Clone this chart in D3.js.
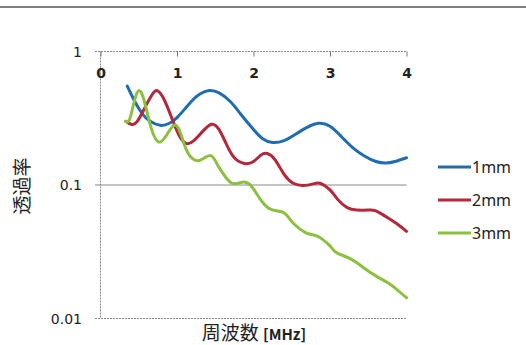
<!DOCTYPE html>
<html><head><meta charset="utf-8">
<script src="https://cdn.jsdelivr.net/npm/d3@7"></script>
<style>html,body{margin:0;padding:0;background:#fff;}svg{display:block;}</style>
</head><body>
<svg id="chart" width="526" height="345"></svg>
<script>
const xTicks = [0, 1, 2, 3, 4];
const yTicks = [1, 0.1, 0.01];
const yTickLabels = ["1", "0.1", "0.01"];
const seriesNames = ["1mm", "2mm", "3mm"];
const seriesColors = ["#1f6db0", "#b3283a", "#8cc03f"];

const blueF = [0.35,0.45,0.55,0.65,0.78,0.9,1.0,1.1,1.2,1.3,1.42,1.55,1.7,1.85,2.0,2.12,2.25,2.4,2.55,2.7,2.85,3.0,3.15,3.3,3.45,3.6,3.73,3.85,4.0];
const blueV = [0.55,0.42,0.34,0.30,0.28,0.29,0.32,0.37,0.43,0.48,0.51,0.49,0.42,0.33,0.26,0.222,0.208,0.215,0.24,0.27,0.29,0.275,0.23,0.19,0.165,0.15,0.146,0.15,0.16];

const redF = [0.33,0.40,0.48,0.58,0.68,0.74,0.82,0.92,1.02,1.12,1.22,1.33,1.45,1.55,1.65,1.75,1.88,2.0,2.1,2.18,2.28,2.4,2.52,2.65,2.78,2.87,3.0,3.1,3.22,3.35,3.5,3.6,3.75,3.9,4.0];
const redV = [0.30,0.285,0.30,0.38,0.48,0.51,0.45,0.33,0.24,0.205,0.215,0.25,0.285,0.26,0.20,0.16,0.145,0.15,0.168,0.172,0.155,0.12,0.103,0.099,0.102,0.103,0.092,0.078,0.068,0.065,0.065,0.064,0.057,0.050,0.045];

const greenF = [0.33,0.38,0.44,0.50,0.57,0.66,0.76,0.86,0.96,1.04,1.12,1.22,1.32,1.44,1.52,1.61,1.72,1.85,1.96,2.09,2.22,2.37,2.45,2.53,2.68,2.8,2.88,3.0,3.09,3.27,3.44,3.62,3.79,3.9,4.0];
const greenV = [0.30,0.31,0.42,0.51,0.43,0.27,0.21,0.235,0.28,0.25,0.185,0.155,0.155,0.166,0.145,0.12,0.103,0.105,0.10,0.078,0.066,0.063,0.058,0.051,0.044,0.042,0.040,0.035,0.031,0.028,0.024,0.0205,0.018,0.016,0.0143];

const series = [
  {name: seriesNames[0], color: seriesColors[0], f: blueF, v: blueV},
  {name: seriesNames[1], color: seriesColors[1], f: redF, v: redV},
  {name: seriesNames[2], color: seriesColors[2], f: greenF, v: greenV}
];

const svg = d3.select("#chart");
const x = d3.scaleLinear().domain([0, 4]).range([100.5, 406.5]);
const y = d3.scaleLog().domain([0.01, 1]).range([318.5, 51.5]);

// top page border
svg.append("line").attr("x1", 0).attr("x2", 526).attr("y1", 7).attr("y2", 7)
  .attr("stroke", "#555").attr("stroke-width", 1.5);

// horizontal gridlines
svg.selectAll(".grid").data(yTicks).enter().append("line")
  .attr("x1", 95).attr("x2", x(4)).attr("y1", d => y(d)).attr("y2", d => y(d))
  .attr("stroke", "#888").attr("stroke-width", 1)
  .attr("stroke-dasharray", d => d === 0.1 ? null : "2,1");

// left axis (dashed)
svg.append("line").attr("x1", x(0)).attr("x2", x(0)).attr("y1", y(1)).attr("y2", y(0.01))
  .attr("stroke", "#888").attr("stroke-dasharray", "2,1");

// y tick labels
svg.selectAll(".ylab").data(yTicks).enter().append("text")
  .attr("x", 82).attr("y", d => y(d)).attr("dy", "0.36em")
  .attr("text-anchor", "end").attr("font-family", "DejaVu Sans, sans-serif")
  .attr("font-size", 14).attr("fill", "#222")
  .text((d, i) => yTickLabels[i]);

// x axis at top, ticks pointing down
const xAxis = d3.axisBottom(x).tickValues(xTicks).tickSize(5).tickPadding(12).tickFormat(d3.format("d"));
const gx = svg.append("g").attr("transform", `translate(0,${y(1)})`).call(xAxis);
gx.select(".domain").remove();
gx.selectAll(".tick line").attr("stroke", "#777");
gx.selectAll(".tick text").attr("font-family", "DejaVu Sans, sans-serif")
  .attr("font-size", 14).attr("fill", "#222").attr("font-weight", "bold");

// lines
const line = d3.line().x(d => x(d[0])).y(d => y(d[1])).curve(d3.curveNatural);
series.forEach(s => {
  const pts = s.f.map((f, i) => [f, s.v[i]]);
  svg.append("path").datum(pts).attr("d", line)
    .attr("fill", "none").attr("stroke", s.color).attr("stroke-width", 3)
    .attr("stroke-linejoin", "round").attr("stroke-linecap", "round");
});

// legend
const leg = svg.append("g");
series.forEach((s, i) => {
  const ly = 167 + i * 33;
  leg.append("line").attr("x1", 438).attr("x2", 471).attr("y1", ly).attr("y2", ly)
    .attr("stroke", s.color).attr("stroke-width", 3);
  leg.append("text").attr("x", 472).attr("y", ly).attr("dy", "0.36em")
    .attr("font-family", "Noto Sans, sans-serif").attr("font-size", 16).attr("fill", "#222")
    .text(s.name);
});

// y axis title
svg.append("text").attr("transform", "translate(22,186) rotate(-90)")
  .attr("text-anchor", "middle").attr("dy", "0.36em")
  .attr("font-family", "Noto Sans CJK JP, sans-serif").attr("font-size", 19).attr("fill", "#222")
  .text("透過率");

// x axis title
const xt = svg.append("text").attr("x", 254).attr("y", 340).attr("text-anchor", "middle")
  .attr("font-family", "Noto Sans CJK JP, sans-serif").attr("fill", "#222");
xt.append("tspan").attr("font-size", 19).text("周波数 ");
xt.append("tspan").attr("font-size", 15).attr("font-weight", "bold").text("[MHz]");
</script>
</body></html>
